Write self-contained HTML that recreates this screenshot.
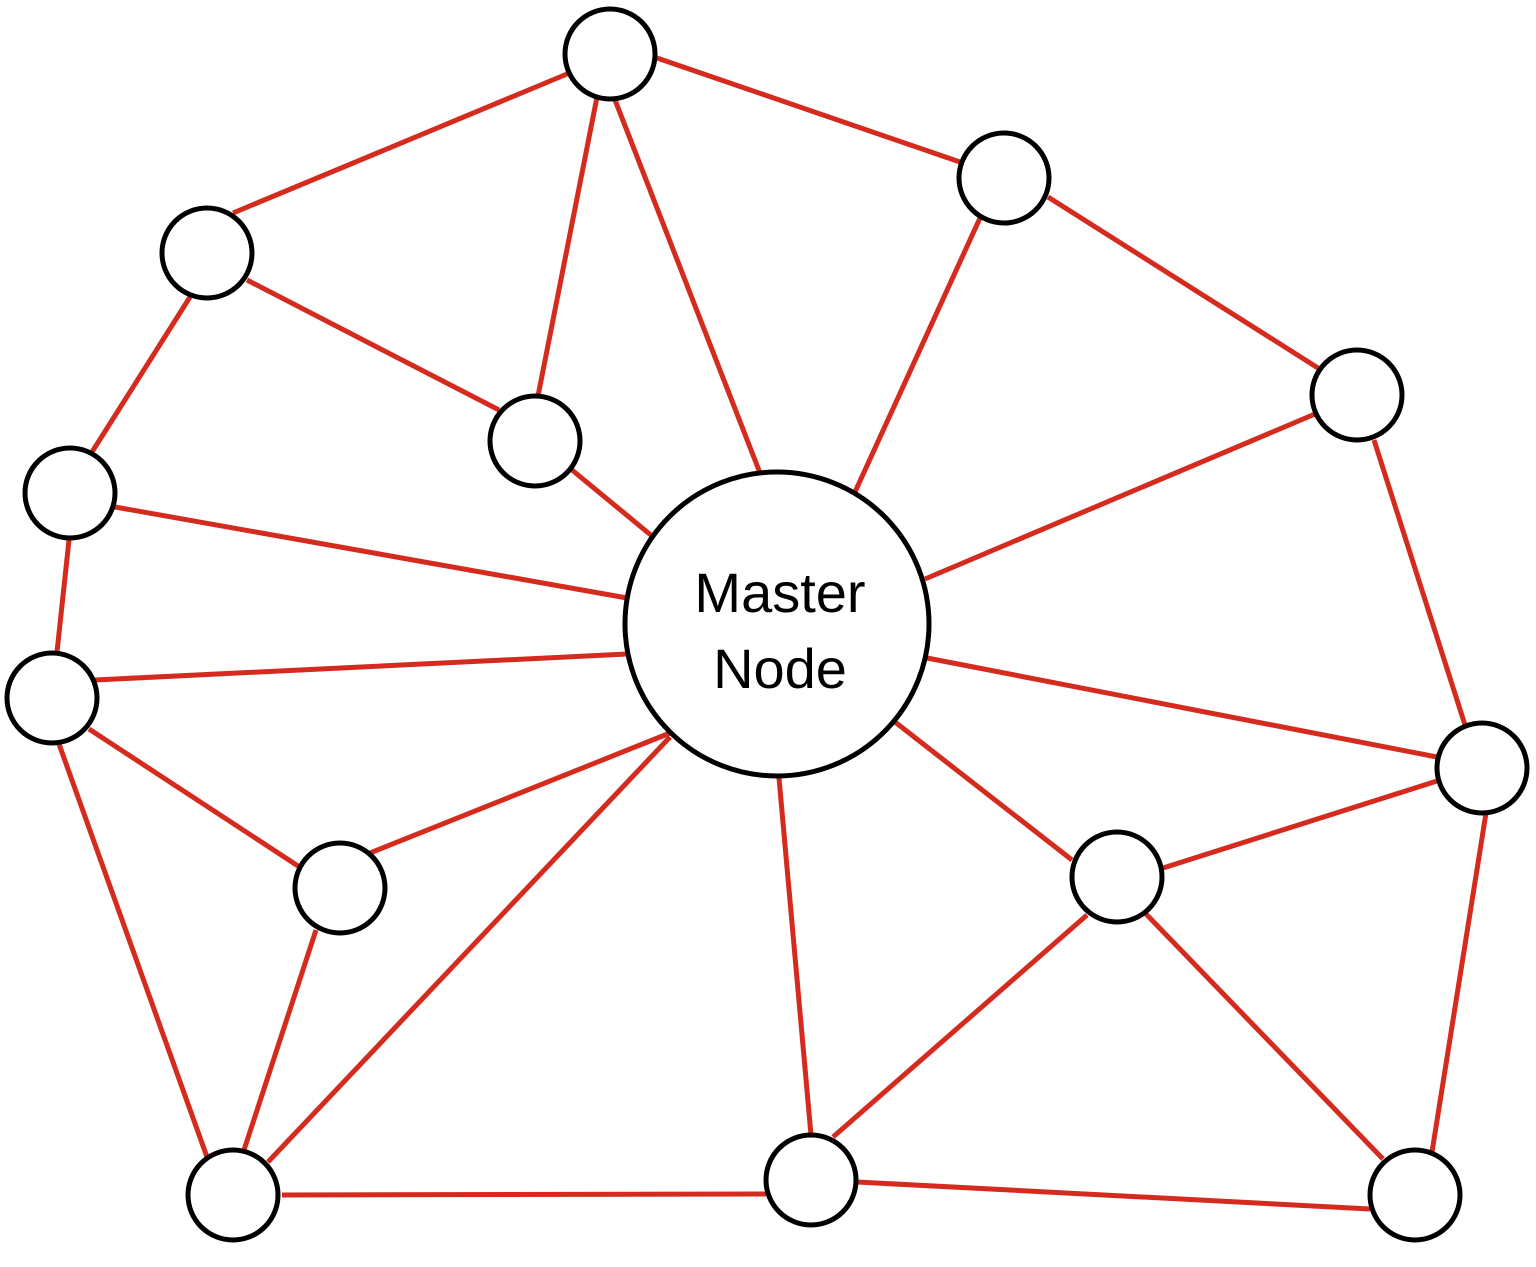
<!DOCTYPE html>
<html><head><meta charset="utf-8"><style>html,body{margin:0;padding:0;background:#fff}svg{display:block}</style></head>
<body>
<svg width="1536" height="1267" viewBox="0 0 1536 1267" xmlns="http://www.w3.org/2000/svg">
<g stroke="#d52b1e" stroke-width="5" fill="none">
<line x1="615" y1="100" x2="760" y2="473"/>
<line x1="980" y1="218" x2="855" y2="492"/>
<line x1="572" y1="470" x2="652" y2="536"/>
<line x1="115" y1="507" x2="627" y2="598"/>
<line x1="95" y1="680" x2="627" y2="654"/>
<line x1="370" y1="853" x2="670" y2="733"/>
<line x1="268" y1="1162" x2="670" y2="737"/>
<line x1="811" y1="1135" x2="779" y2="778"/>
<line x1="1072" y1="860" x2="895" y2="722"/>
<line x1="1437" y1="757" x2="927" y2="658"/>
<line x1="1315" y1="414" x2="925" y2="579"/>
<line x1="567" y1="74" x2="233" y2="213"/>
<line x1="597" y1="97" x2="538" y2="396"/>
<line x1="657" y1="58" x2="960" y2="162"/>
<line x1="1048" y1="197" x2="1318" y2="368"/>
<line x1="247" y1="280" x2="499" y2="410"/>
<line x1="190" y1="297" x2="92" y2="452"/>
<line x1="69" y1="540" x2="57" y2="652"/>
<line x1="89" y1="729" x2="298" y2="866"/>
<line x1="59" y1="744" x2="207" y2="1157"/>
<line x1="316" y1="930" x2="244" y2="1150"/>
<line x1="282" y1="1195" x2="766" y2="1194"/>
<line x1="833" y1="1137" x2="1087" y2="915"/>
<line x1="857" y1="1182" x2="1370" y2="1209"/>
<line x1="1163" y1="868" x2="1437" y2="781"/>
<line x1="1146" y1="914" x2="1383" y2="1159"/>
<line x1="1486" y1="813" x2="1432" y2="1152"/>
<line x1="1374" y1="440" x2="1465" y2="725"/>
</g>
<g stroke="#000" stroke-width="5" fill="#fff">
<circle cx="610" cy="54" r="45"/>
<circle cx="1004" cy="178" r="45"/>
<circle cx="207" cy="253" r="45"/>
<circle cx="535" cy="441" r="45"/>
<circle cx="1357" cy="395" r="45"/>
<circle cx="70" cy="493" r="45"/>
<circle cx="52" cy="698" r="45"/>
<circle cx="340" cy="888" r="45"/>
<circle cx="1482" cy="768" r="45"/>
<circle cx="1117" cy="877" r="45"/>
<circle cx="233" cy="1195" r="45"/>
<circle cx="811" cy="1180" r="45"/>
<circle cx="1415" cy="1195" r="45"/>
<circle cx="777" cy="624" r="152"/>
</g>
<g font-family="Liberation Sans, sans-serif" font-size="56" fill="#000" text-anchor="middle">
<text x="780" y="612">Master</text>
<text x="780" y="688">Node</text>
</g>
</svg>
</body></html>
